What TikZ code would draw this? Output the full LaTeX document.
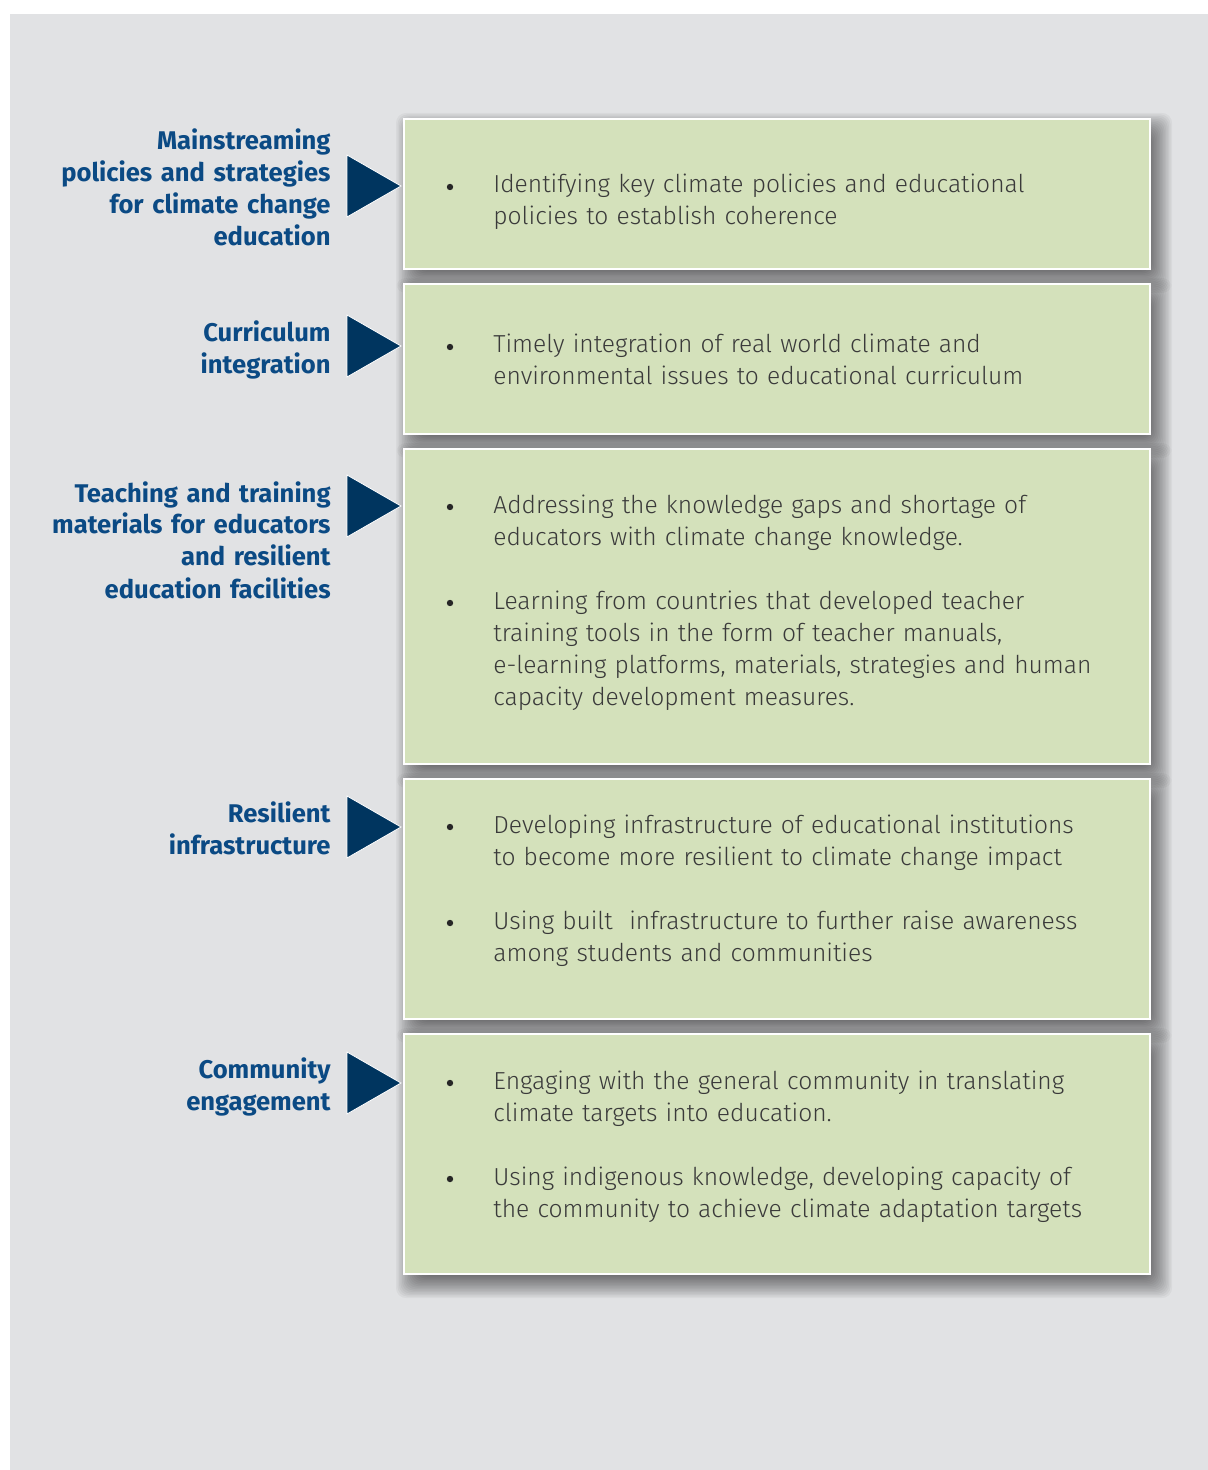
\documentclass[tikz,border=0pt]{standalone}
\usepackage{fontspec}
\newfontfamily\bodyfont{Fira Sans Light}
\newfontfamily\headfont{Fira Sans}
\definecolor{bggrey}{HTML}{E1E2E4}
\definecolor{boxgreen}{HTML}{D4E1BB}
\definecolor{navy}{HTML}{00355F}
\definecolor{headblue}{HTML}{0B4A84}
\definecolor{bodygrey}{HTML}{3A3A3A}
\tikzset{
  panel/.style={draw=white, line width=1pt, fill=boxgreen, anchor=north west,
    inner sep=0pt, minimum width=373pt},
  haze/.style={fill=black, opacity=0.04, rounded corners=5pt},
  head/.style={font=\headfont\bfseries\fontsize{12.8}{16}\selectfont, text=headblue,
    text width=170pt, align=right, anchor=base east, inner sep=0pt},
  item/.style={font=\bodyfont\fontsize{12.3}{16}\selectfont, text=bodygrey,
    text width=320pt, align=left, anchor=base west, inner sep=0pt},
  dot/.style={circle, fill=black!85, inner sep=0pt, minimum size=3.2pt},
  pointer/.style={fill=navy, draw=white, line width=0.4pt}
}
\begin{document}
\begin{tikzpicture}[x=0.5pt,y=-0.5pt]
  \useasboundingbox (0,0) rectangle (1208,1470);
  \fill[white] (0,0) rectangle (1208,1470);
  \fill[bggrey] (10,14) rectangle (1208,1470);

  % soft shadows under the panels
  \foreach \t/\b in {118/268, 283/433, 448/763, 778/1018, 1033/1273}
    \foreach \k in {0,...,20}
      \fill[haze] ({411-15+1.5*\k},{\t+10-15+1.5*\k}) rectangle ({1157+15-1.5*\k},{\b+10+15-1.5*\k});

  % panels
  \node[panel, minimum height=75pt] (p1) at (403,118) {};
  \node[panel, minimum height=75pt] (p2) at (403,283) {};
  \node[panel, minimum height=157.5pt] (p3) at (403,448) {};
  \node[panel, minimum height=120pt] (p4) at (403,778) {};
  \node[panel, minimum height=120pt] (p5) at (403,1033) {};

  % pointers
  \draw[pointer] (401,186) -- ++(-54,-31) -- ++(0,62) -- cycle;
  \draw[pointer] (401,346) -- ++(-54,-31) -- ++(0,62) -- cycle;
  \draw[pointer] (401,506) -- ++(-54,-31) -- ++(0,62) -- cycle;
  \draw[pointer] (401,827) -- ++(-54,-31) -- ++(0,62) -- cycle;
  \draw[pointer] (401,1083) -- ++(-54,-31) -- ++(0,62) -- cycle;

  % headings
  \node[head] (h1) at (331,150) {Mainstreaming\\policies and strategies\\for climate change\\education};
  \node[head] (h2) at (331,342) {Curriculum\\integration};
  \node[head] (h3) at (331,502) {Teaching and training\\materials for educators\\and resilient\\education facilities};
  \node[head] (h4) at (331,822) {Resilient\\infrastructure};
  \node[head] (h5) at (331,1078) {Community\\engagement};

  % bullet points
  \node[dot] (d11) at (450,187) {};
  \node[item] (t11) at (493,193) {Identifying key climate policies and educational\\policies to establish coherence};

  \node[dot] (d21) at (450,347) {};
  \node[item] (t21) at (493,353) {Timely integration of real world climate and\\environmental issues to educational curriculum};

  \node[dot] (d31) at (450,507) {};
  \node[item] (t31) at (493,513) {Addressing the knowledge gaps and shortage of\\educators with climate change knowledge.};
  \node[dot] (d32) at (450,603) {};
  \node[item] (t32) at (493,609) {Learning from countries that developed teacher\\training tools in the form of teacher manuals,\\e-learning platforms, materials, strategies and human\\capacity development measures.};

  \node[dot] (d41) at (450,827) {};
  \node[item] (t41) at (493,833) {Developing infrastructure of educational institutions\\to become more resilient to climate change impact};
  \node[dot] (d42) at (450,923) {};
  \node[item] (t42) at (493,929) {Using built\ \ infrastructure to further raise awareness\\among students and communities};

  \node[dot] (d51) at (450,1083) {};
  \node[item] (t51) at (493,1089) {Engaging with the general community in translating\\climate targets into education.};
  \node[dot] (d52) at (450,1179) {};
  \node[item] (t52) at (493,1185) {Using indigenous knowledge, developing capacity of\\the community to achieve climate adaptation targets};
\end{tikzpicture}
\end{document}
